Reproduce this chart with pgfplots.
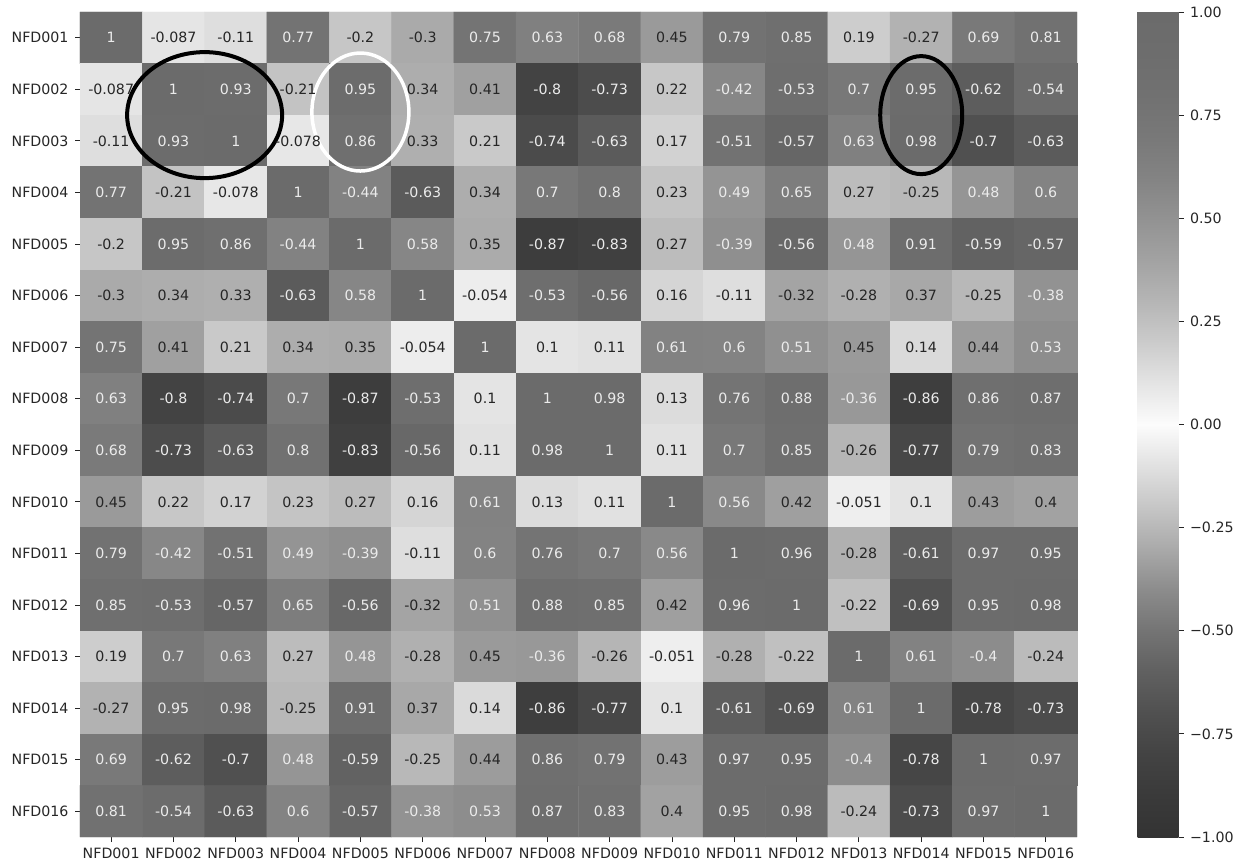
\documentclass[border=0pt]{standalone}
\usepackage{fontspec}
\setmainfont{DejaVu Sans}
\usepackage{pgfplots}
\pgfplotsset{compat=1.18}
\usepackage{pgfplotstable}
\pgfplotstableread{
v
1
-0.087
-0.11
0.77
-0.2
-0.3
0.75
0.63
0.68
0.45
0.79
0.85
0.19
-0.27
0.69
0.81
-0.087
1
0.93
-0.21
0.95
0.34
0.41
-0.8
-0.73
0.22
-0.42
-0.53
0.7
0.95
-0.62
-0.54
-0.11
0.93
1
-0.078
0.86
0.33
0.21
-0.74
-0.63
0.17
-0.51
-0.57
0.63
0.98
-0.7
-0.63
0.77
-0.21
-0.078
1
-0.44
-0.63
0.34
0.7
0.8
0.23
0.49
0.65
0.27
-0.25
0.48
0.6
-0.2
0.95
0.86
-0.44
1
0.58
0.35
-0.87
-0.83
0.27
-0.39
-0.56
0.48
0.91
-0.59
-0.57
-0.3
0.34
0.33
-0.63
0.58
1
-0.054
-0.53
-0.56
0.16
-0.11
-0.32
-0.28
0.37
-0.25
-0.38
0.75
0.41
0.21
0.34
0.35
-0.054
1
0.1
0.11
0.61
0.6
0.51
0.45
0.14
0.44
0.53
0.63
-0.8
-0.74
0.7
-0.87
-0.53
0.1
1
0.98
0.13
0.76
0.88
-0.36
-0.86
0.86
0.87
0.68
-0.73
-0.63
0.8
-0.83
-0.56
0.11
0.98
1
0.11
0.7
0.85
-0.26
-0.77
0.79
0.83
0.45
0.22
0.17
0.23
0.27
0.16
0.61
0.13
0.11
1
0.56
0.42
-0.051
0.1
0.43
0.4
0.79
-0.42
-0.51
0.49
-0.39
-0.11
0.6
0.76
0.7
0.56
1
0.96
-0.28
-0.61
0.97
0.95
0.85
-0.53
-0.57
0.65
-0.56
-0.32
0.51
0.88
0.85
0.42
0.96
1
-0.22
-0.69
0.95
0.98
0.19
0.7
0.63
0.27
0.48
-0.28
0.45
-0.36
-0.26
-0.051
-0.28
-0.22
1
0.61
-0.4
-0.24
-0.27
0.95
0.98
-0.25
0.91
0.37
0.14
-0.86
-0.77
0.1
-0.61
-0.69
0.61
1
-0.78
-0.73
0.69
-0.62
-0.7
0.48
-0.59
-0.25
0.44
0.86
0.79
0.43
0.97
0.95
-0.4
-0.78
1
0.97
0.81
-0.54
-0.63
0.6
-0.57
-0.38
0.53
0.87
0.83
0.4
0.95
0.98
-0.24
-0.73
0.97
1
}\corr
\def\fs{\fontsize{14.2}{16}\selectfont}
\begin{document}
\begin{tikzpicture}
\useasboundingbox (0,0) rectangle (1242pt,865pt);
\begin{axis}[
  at={(80pt,28pt)}, anchor=south west,
  scale only axis, width=997pt, height=825pt,
  xmin=-0.5, xmax=15.5, ymin=-0.5, ymax=15.5,
  axis line style={draw=none},
  xtick={0,...,15}, ytick={0,...,15},
  xticklabels={NFD001,NFD002,NFD003,NFD004,NFD005,NFD006,NFD007,NFD008,NFD009,NFD010,NFD011,NFD012,NFD013,NFD014,NFD015,NFD016},
  yticklabels={NFD016,NFD015,NFD014,NFD013,NFD012,NFD011,NFD010,NFD009,NFD008,NFD007,NFD006,NFD005,NFD004,NFD003,NFD002,NFD001},
  tick align=outside, major tick length=5pt,
  tick style={color=black!85, line width=0.9pt},
  xtick pos=left, ytick pos=left,
  tick label style={font=\fs, text=black!85},
  xticklabel style={yshift=-2pt},
  yticklabel style={xshift=-3pt},
  colormap={hm}{rgb255(0cm)=(51,51,51); rgb255(1cm)=(58,58,58); rgb255(2cm)=(67,67,67); rgb255(3cm)=(80,80,80); rgb255(4cm)=(96,96,96); rgb255(5cm)=(116,116,116); rgb255(6cm)=(140,140,140); rgb255(7cm)=(170,170,170); rgb255(8cm)=(198,198,198); rgb255(9cm)=(225,225,225); rgb255(10cm)=(252,252,252); rgb255(11cm)=(228,228,228); rgb255(12cm)=(203,203,203); rgb255(13cm)=(181,181,181); rgb255(14cm)=(162,162,162); rgb255(15cm)=(146,146,146); rgb255(16cm)=(131,131,131); rgb255(17cm)=(120,120,120); rgb255(18cm)=(113,113,113); rgb255(19cm)=(109,109,109); rgb255(20cm)=(107,107,107)},
  point meta min=-1, point meta max=1,
  colorbar,
  colorbar/width=41pt,
  colorbar style={
    at={(parent axis.north east)}, anchor=north west, xshift=52pt,
    scale only axis, width=41pt, height=825pt,
    axis line style={draw=none},
    ytick={-1,-0.75,-0.5,-0.25,0,0.25,0.5,0.75,1},
    yticklabels={−1.00,−0.75,−0.50,−0.25,0.00,0.25,0.50,0.75,1.00},
    tick align=outside, major tick length=5pt, ytick pos=right,
    ytick style={color=black!85, line width=0.9pt},
    yticklabel style={font=\fs, text=black!85, xshift=3pt},
  },
  clip=false,
]
\addplot[matrix plot*, mesh/cols=16, point meta=explicit]
  table[x index=0, y index=0, x expr={\coordindex-16*floor((\coordindex+0.5)/16)}, y expr={15-floor((\coordindex+0.5)/16)}, meta=v] {\corr};
\addplot[draw=none, mark=none, point meta=explicit symbolic,
  visualization depends on={\thisrow{v} \as \val},
  nodes near coords={\pgfmathparse{(\val>0.46)||(\val<-0.34)}\ifdim\pgfmathresult pt>0.5pt\color{white!92!black}\else\color{black!85}\fi\pgfplotspointmeta},
  nodes near coords align=center,
  every node near coord/.append style={font=\fs, anchor=center}]
  table[x index=0, y index=0, x expr={\coordindex-16*floor((\coordindex+0.5)/16)}, y expr={15-floor((\coordindex+0.5)/16)}, meta=v] {\corr};
\draw[black, line width=4pt] (axis cs:1.5,13.5) ellipse [x radius=77.5pt, y radius=63pt];
\draw[white, line width=3.5pt] (axis cs:4,13.56) ellipse [x radius=48.5pt, y radius=59pt];
\draw[black, line width=4pt] (axis cs:13,13.5) ellipse [x radius=41pt, y radius=59pt];
\end{axis}
\end{tikzpicture}
\end{document}
